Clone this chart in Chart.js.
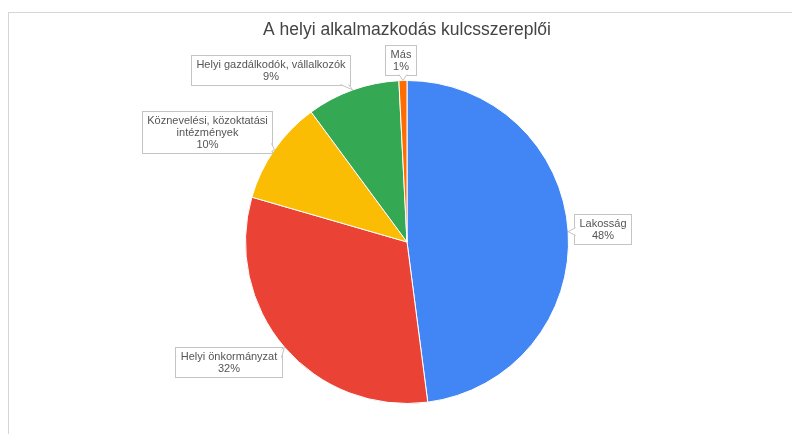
<!DOCTYPE html>
<html lang="hu">
<head>
    <meta charset="UTF-8">
    <title>A helyi alkalmazkodás kulcsszereplői</title>
    <script src="https://cdnjs.cloudflare.com/ajax/libs/Chart.js/4.4.1/chart.umd.min.js"></script>
    <style>
        body { margin: 0; background: #fff; }
        #wrap { position: relative; width: 792px; height: 434px; }
        #frame {
            position: absolute; left: 8px; top: 12px; right: 0; bottom: 0;
            border-top: 1px solid #d6d6d6; border-left: 1px solid #d6d6d6;
            pointer-events: none;
        }
    </style>
</head>
<body>
<div id="wrap">
    <canvas id="chart"></canvas>
    <div id="frame"></div>
</div>
<script type="text/javascript">
    // data
    const categories = ['Lakosság', 'Helyi önkormányzat', 'Köznevelési, közoktatási\nintézmények', 'Helyi gazdálkodók, vállalkozók', 'Más'];
    const values = [47.9, 31.5, 10.4, 9.3, 0.8];
    const colors = ['#4285F4', '#EA4335', '#FBBC04', '#34A853', '#FF6D01'];

    // where each callout box sits relative to its slice's edge point
    const calloutOffsets = [[34, -3], [-56, 15], [-67, -18], [-82, -20], [-3, -21]];

    const total = values.reduce((a, b) => a + b, 0);

    const callouts = {
        id: 'callouts',
        afterDatasetsDraw(chart) {
            const {ctx} = chart;
            const meta = chart.getDatasetMeta(0);
            ctx.save();
            ctx.font = '11px "Liberation Sans", Arial, sans-serif';
            ctx.textAlign = 'center';
            ctx.textBaseline = 'middle';
            meta.data.forEach((arc, i) => {
                const mid = (arc.startAngle + arc.endAngle) / 2;
                const ax = arc.x + Math.cos(mid) * arc.outerRadius;
                const ay = arc.y + Math.sin(mid) * arc.outerRadius;
                const lines = categories[i].split('\n');
                lines.push(Math.round(values[i] / total * 100) + '%');
                const lh = 12;
                const w = Math.max(...lines.map(l => ctx.measureText(l).width)) + 10;
                const h = lines.length * lh + 6;
                const cx = ax + calloutOffsets[i][0];
                const cy = ay + calloutOffsets[i][1];
                const x0 = Math.round(cx - w / 2) + 0.5, y0 = Math.round(cy - h / 2) + 0.5;
                const x1 = x0 + Math.round(w), y1 = y0 + Math.round(h);

                ctx.fillStyle = '#fff';
                ctx.strokeStyle = '#c4c4c4';
                ctx.lineWidth = 1;
                ctx.fillRect(x0, y0, x1 - x0, y1 - y0);
                ctx.strokeRect(x0, y0, x1 - x0, y1 - y0);

                // tail pointing at the slice
                const outX = ax < x0 ? x0 - ax : (ax > x1 ? ax - x1 : 0);
                const outY = ay < y0 ? y0 - ay : (ay > y1 ? ay - y1 : 0);
                let b1, b2;
                if (outY >= outX) {
                    const ey = ay > y1 ? y1 : y0;
                    const bx = Math.min(Math.max(ax, x0 + 6), x1 - 6);
                    const inn = ay > y1 ? -1 : 1;
                    b1 = [bx - 4, ey + inn]; b2 = [bx + 4, ey + inn];
                } else {
                    const ex = ax > x1 ? x1 : x0;
                    const by = Math.min(Math.max(ay, y0 + 6), y1 - 6);
                    const inn = ax > x1 ? -1 : 1;
                    b1 = [ex + inn, by - 4]; b2 = [ex + inn, by + 4];
                }
                ctx.beginPath();
                ctx.moveTo(b1[0], b1[1]);
                ctx.lineTo(ax, ay);
                ctx.lineTo(b2[0], b2[1]);
                ctx.closePath();
                ctx.fill();
                ctx.beginPath();
                ctx.moveTo(b1[0], b1[1]);
                ctx.lineTo(ax, ay);
                ctx.lineTo(b2[0], b2[1]);
                ctx.stroke();

                ctx.fillStyle = '#555';
                const ty = (y0 + y1) / 2 - (lines.length - 1) * lh / 2;
                lines.forEach((l, k) => ctx.fillText(l, (x0 + x1) / 2, ty + k * lh));
            });
            ctx.restore();
        }
    };

    const bg = {
        id: 'bg',
        beforeDraw(chart) {
            const {ctx} = chart;
            ctx.save();
            ctx.fillStyle = '#fff';
            ctx.fillRect(0, 0, chart.width, chart.height);
            ctx.restore();
        }
    };

    const config = {
        type: 'pie',
        data: {
            labels: categories,
            datasets: [{
                data: values,
                backgroundColor: colors,
                borderColor: '#fff',
                borderWidth: 1
            }]
        },
        options: {
            responsive: true,
            maintainAspectRatio: false,
            animation: false,
            layout: {padding: {left: 245, right: 223, top: 0, bottom: 30}},
            plugins: {
                legend: {display: false},
                tooltip: {enabled: false},
                title: {
                    display: true,
                    text: 'A helyi alkalmazkodás kulcsszereplői',
                    color: '#444',
                    font: {family: '"Liberation Sans", Arial, sans-serif', size: 17.5, weight: 'normal', lineHeight: 1.2},
                    padding: {top: 19.5, bottom: 39.5}
                }
            }
        },
        plugins: [bg, callouts]
    };

    new Chart(document.getElementById('chart'), config);
</script>
</body>
</html>
